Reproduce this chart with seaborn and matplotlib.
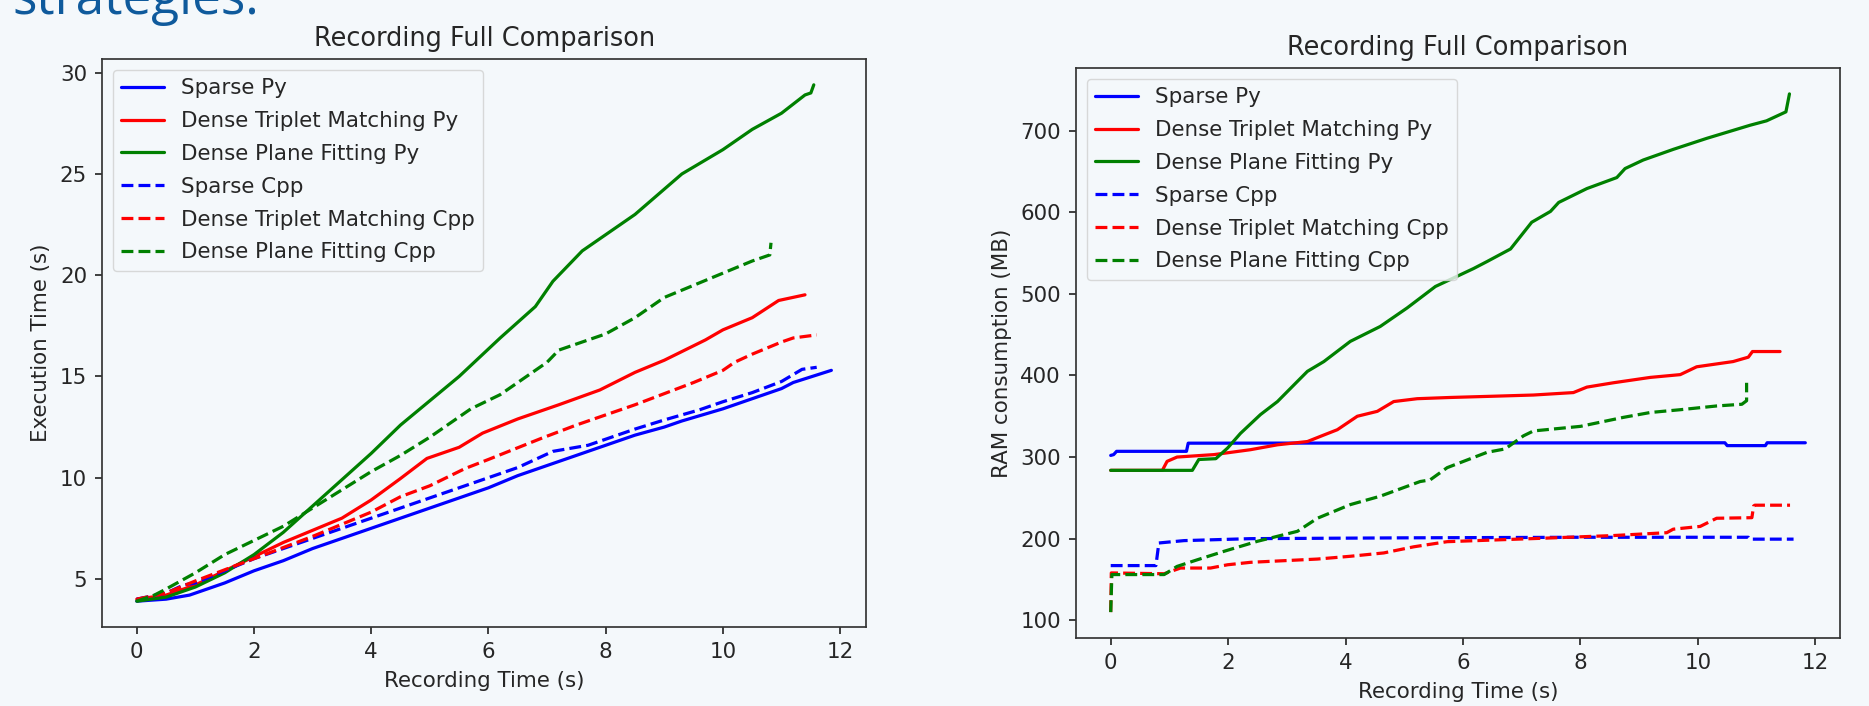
import numpy as np
import pandas as pd
import matplotlib
matplotlib.use("Agg")
import matplotlib.pyplot as plt
import seaborn as sns

# ---- Execution time (left panel) ----
t_sparse_py = [0, 0.5, 0.9, 1.5, 2, 2.5, 3, 3.5, 4, 4.5, 5, 5.5, 6, 6.5, 6.9, 7.5, 8, 8.5, 9, 9.3, 10, 10.5, 11, 11.2, 11.85]
exec_sparse_py = [3.9, 4.0, 4.2, 4.8, 5.4, 5.9, 6.5, 7.0, 7.5, 8.0, 8.5, 9.0, 9.5, 10.1, 10.5, 11.1, 11.6, 12.1, 12.5, 12.8, 13.4, 13.9, 14.4, 14.7, 15.3]

t_tm_py = [0, 0.5, 1, 1.5, 2, 2.5, 3, 3.5, 4, 4.5, 4.95, 5.5, 5.9, 6.5, 7.2, 7.9, 8.5, 9, 9.7, 10, 10.5, 10.95, 11.4]
exec_tm_py = [4.0, 4.2, 4.7, 5.4, 6.1, 6.8, 7.4, 8.0, 8.9, 9.96, 10.95, 11.5, 12.2, 12.9, 13.6, 14.33, 15.2, 15.8, 16.8, 17.3, 17.9, 18.75, 19.03]

t_pf_py = [0, 0.5, 1, 1.5, 2, 2.5, 3, 3.5, 4, 4.5, 5, 5.5, 6.2, 6.8, 7.1, 7.6, 8, 8.5, 8.9, 9.3, 10, 10.5, 11, 11.4, 11.5, 11.55]
exec_pf_py = [3.9, 4.1, 4.6, 5.3, 6.2, 7.3, 8.6, 9.9, 11.2, 12.6, 13.8, 15.0, 16.9, 18.45, 19.7, 21.2, 22.0, 23.0, 24.0, 25.0, 26.2, 27.2, 28.0, 28.9, 29.0, 29.4]

t_sparse_cpp = [0, 0.5, 0.8, 1.0, 1.5, 2, 2.5, 3, 3.5, 4, 4.5, 5, 5.5, 6, 6.5, 7.1, 7.7, 8, 8.5, 9, 9.6, 10, 10.5, 11, 11.35, 11.6]
exec_sparse_cpp = [4.0, 4.3, 4.7, 4.8, 5.4, 6.0, 6.5, 7.0, 7.5, 8.0, 8.5, 9.0, 9.5, 10.0, 10.5, 11.3, 11.6, 11.9, 12.4, 12.85, 13.35, 13.75, 14.2, 14.75, 15.35, 15.45]

t_tm_cpp = [0, 0.5, 1, 2, 3, 4, 4.5, 5, 5.6, 6, 6.9, 7.5, 8, 8.5, 9, 9.5, 10, 10.2, 10.5, 11, 11.2, 11.6]
exec_tm_cpp = [4.0, 4.3, 4.9, 6.0, 7.1, 8.3, 9.06, 9.6, 10.45, 10.9, 11.94, 12.6, 13.1, 13.6, 14.15, 14.7, 15.3, 15.7, 16.1, 16.7, 16.9, 17.05]

t_pf_cpp = [0, 0.3, 0.5, 1, 1.5, 2, 2.5, 3, 3.5, 4, 4.5, 5, 5.7, 6.2, 7.0, 7.2, 8, 8.5, 9, 9.5, 10, 10.5, 10.8, 10.82]
exec_pf_cpp = [3.9, 4.2, 4.5, 5.3, 6.2, 6.9, 7.6, 8.5, 9.4, 10.3, 11.1, 12.0, 13.4, 14.1, 15.7, 16.3, 17.1, 17.9, 18.9, 19.5, 20.1, 20.7, 21.0, 21.6]

# ---- RAM consumption (right panel) ----
r_sparse_py_t = [0, 0.05, 0.1, 1.29, 1.32, 10.46, 10.5, 11.15, 11.18, 11.83]
ram_sparse_py = [302, 303, 307, 307, 317, 317.5, 314, 314, 317.5, 317.5]

r_tm_py_t = [0, 0.88, 0.96, 1.13, 1.76, 2.38, 2.84, 3.35, 3.63, 3.86, 4.2, 4.54, 4.82, 5.22, 5.78, 6.5, 7.2, 7.88, 8.11, 8.56, 9.19, 9.7, 9.98, 10.6, 10.86, 10.93, 11.4]
ram_tm_py = [283.7, 283.7, 294.7, 300, 303, 309, 315, 319, 327, 333.5, 350, 356, 368, 371.5, 373, 374.5, 376, 379, 385.7, 391, 397.6, 401, 410.6, 417, 422.4, 429.3, 429.3]

r_pf_py_t = [0, 1.39, 1.5, 1.79, 1.99, 2.21, 2.55, 2.84, 3.18, 3.35, 3.63, 4.08, 4.59, 5.05, 5.53, 6.18, 6.41, 6.81, 7.17, 7.49, 7.63, 8.11, 8.62, 8.76, 9.07, 9.58, 10.15, 10.89, 11.17, 11.5, 11.56]
ram_pf_py = [283.7, 283.7, 297, 298, 311, 329, 352, 368, 392.7, 405, 417, 441.7, 460, 482.8, 509, 531, 539.6, 555, 587.7, 601, 612, 629, 642.5, 653.5, 664, 677, 690.5, 706.6, 712, 723, 745]

r_sparse_cpp_t = [0, 0.77, 0.82, 1.25, 2.38, 5, 8, 10.86, 10.88, 11.63]
ram_sparse_cpp = [167, 167, 194.7, 197.6, 200, 201, 201.7, 201.7, 199.4, 199.4]

r_tm_cpp_t = [0, 0.01, 0.91, 1.19, 1.70, 1.99, 2.38, 2.95, 3.52, 4.08, 4.65, 5.16, 5.73, 7.43, 8.56, 9.47, 9.58, 10.04, 10.32, 10.92, 10.95, 10.97, 11.57]
ram_tm_cpp = [110, 158, 157, 164, 164, 168, 171, 173, 175, 178.4, 182.5, 190, 196.3, 200.7, 203.8, 207.3, 211.6, 215, 225, 225.7, 240, 241, 241]

r_pf_cpp_t = [0, 0.02, 0.91, 1.13, 1.47, 1.93, 2.50, 3.18, 3.52, 4.08, 4.59, 5.27, 5.44, 5.73, 6.41, 6.72, 7.03, 7.20, 8.0, 8.73, 9.19, 9.70, 10.32, 10.75, 10.83, 10.83]
ram_pf_cpp = [110, 156, 156, 166, 174, 184.5, 196.8, 209, 225, 241.7, 252, 270, 272, 287, 305.8, 310, 326, 332, 337.6, 348.6, 354.6, 358, 362.6, 364.7, 369, 391]

labels = ["Sparse Py", "Dense Triplet Matching Py", "Dense Plane Fitting Py",
          "Sparse Cpp", "Dense Triplet Matching Cpp", "Dense Plane Fitting Cpp"]
colors = ["blue", "red", "green", "blue", "red", "green"]
styles = ["-", "-", "-", "--", "--", "--"]

exec_series = [(t_sparse_py, exec_sparse_py), (t_tm_py, exec_tm_py), (t_pf_py, exec_pf_py),
               (t_sparse_cpp, exec_sparse_cpp), (t_tm_cpp, exec_tm_cpp), (t_pf_cpp, exec_pf_cpp)]
ram_series = [(r_sparse_py_t, ram_sparse_py), (r_tm_py_t, ram_tm_py), (r_pf_py_t, ram_pf_py),
              (r_sparse_cpp_t, ram_sparse_cpp), (r_tm_cpp_t, ram_tm_cpp), (r_pf_cpp_t, ram_pf_cpp)]

bg = "#f4f8fb"
sc = 1.54  # the plots were enlarged from default-size matplotlib figures

sns.set_style("ticks")
plt.rcParams["font.family"] = ["DejaVu Sans"]
plt.rcParams.update({
    "axes.facecolor": bg,
    "figure.facecolor": bg,
    "font.size": 10 * sc,
    "axes.titlesize": 12 * sc,
    "axes.labelsize": 10 * sc,
    "xtick.labelsize": 10 * sc,
    "ytick.labelsize": 10 * sc,
    "legend.fontsize": 10 * sc,
    "axes.linewidth": 0.8 * sc,
    "xtick.major.width": 0.8 * sc,
    "ytick.major.width": 0.8 * sc,
    "xtick.major.size": 3.5 * sc,
    "ytick.major.size": 3.5 * sc,
    "xtick.major.pad": 3.5 * sc,
    "ytick.major.pad": 3.5 * sc,
    "axes.titlepad": 6 * sc,
    "axes.labelpad": 4 * sc,
    "axes.edgecolor": "#333333",
    "text.color": "#262626",
    "axes.labelcolor": "#262626",
    "xtick.color": "#262626",
    "ytick.color": "#262626",
})

fig = plt.figure(figsize=(18.69, 7.06), dpi=100)
ax1 = fig.add_axes([0.0546, 0.1119, 0.4088, 0.8045])
ax2 = fig.add_axes([0.5757, 0.0963, 0.4088, 0.8074])


def draw(ax, series, ylabel):
    for (x, y), lab, col, ls in zip(series, labels, colors, styles):
        df = pd.DataFrame({"t": x, "v": y})
        sns.lineplot(data=df, x="t", y="v", ax=ax, color=col, linestyle=ls,
                     linewidth=1.5 * sc, label=lab, sort=False, estimator=None)
    ax.set_title("Recording Full Comparison")
    ax.set_xlabel("Recording Time (s)")
    ax.set_ylabel(ylabel)
    ax.set_xticks(np.arange(0, 13, 2))
    leg = ax.legend(loc="upper left", handlelength=2.0, frameon=True, labelspacing=0.6)
    leg.get_frame().set_facecolor(bg)
    leg.get_frame().set_edgecolor("#d0d0d0")
    for s in ax.spines.values():
        s.set_visible(True)


draw(ax1, exec_series, "Execution Time (s)")
ax1.set_yticks([5, 10, 15, 20, 25, 30])
draw(ax2, ram_series, "RAM consumption (MB)")
ax2.set_yticks([100, 200, 300, 400, 500, 600, 700])

# slide text cut off at the top of the screenshot
fig.text(12 / 1869, 1 - 14 / 706, "strategies.", fontsize=37, color="#0f5a9c",
         family="Open Sans", ha="left", va="baseline")

fig.savefig("out.png", dpi=100, facecolor=bg)
